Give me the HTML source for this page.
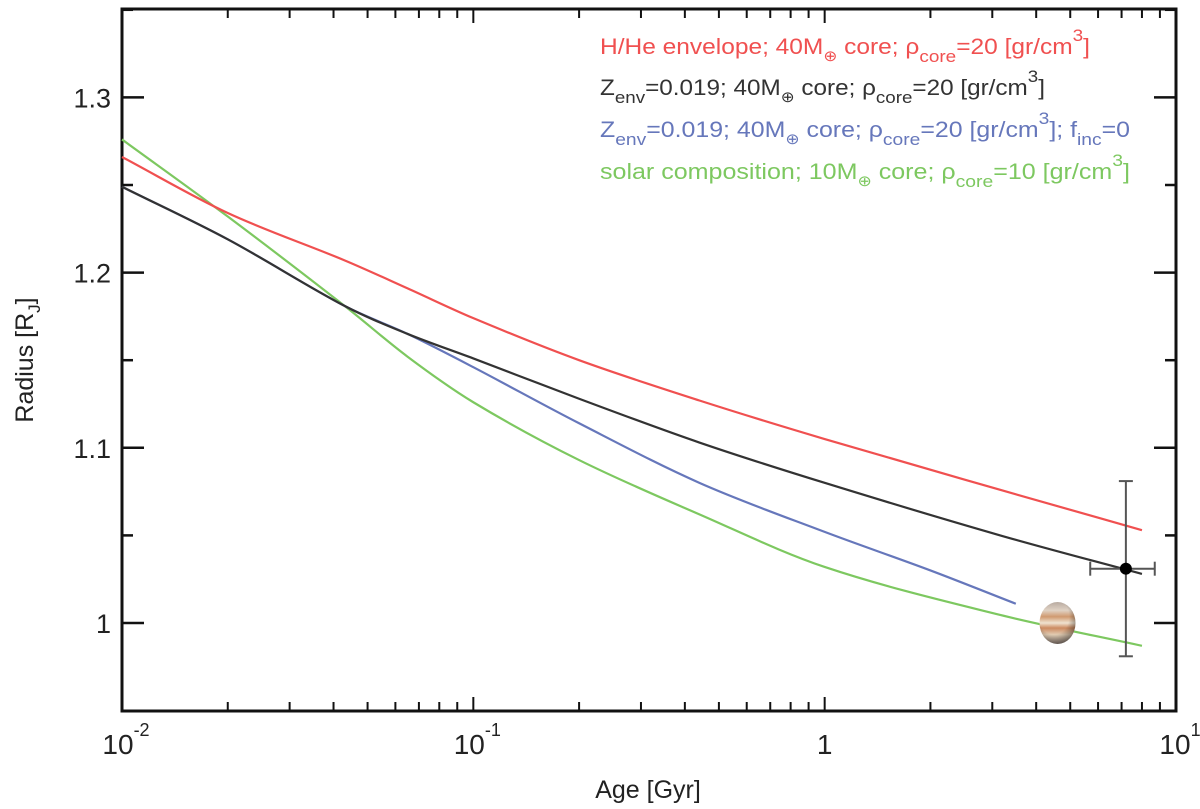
<!DOCTYPE html>
<html><head><meta charset="utf-8">
<style>
html,body{margin:0;padding:0;background:#fff;}
svg{display:block;font-family:"Liberation Sans",sans-serif;}
</style></head>
<body>
<svg id="chart" width="1200" height="809" viewBox="0 0 1200 809" xmlns="http://www.w3.org/2000/svg">
<defs>
<radialGradient id="shade" cx="0.4" cy="0.35" r="0.7">
<stop offset="0.6" stop-color="#000" stop-opacity="0"/><stop offset="1" stop-color="#000" stop-opacity="0.45"/></radialGradient>
<linearGradient id="jup" x1="0" y1="0" x2="0" y2="1">
<stop offset="0" stop-color="#b8aaa0"/><stop offset="0.2" stop-color="#e0d2c4"/>
<stop offset="0.35" stop-color="#d09a70"/><stop offset="0.5" stop-color="#efe2d0"/>
<stop offset="0.62" stop-color="#cc8a60"/><stop offset="0.78" stop-color="#e2cdb4"/>
<stop offset="1" stop-color="#9a8a80"/></linearGradient>
</defs>
<g id="plot"></g>
<g font-size="22">
<text x="600" y="54" fill="#f05050" textLength="490" lengthAdjust="spacingAndGlyphs">H/He envelope; 40M<tspan font-size="15" dy="7">⊕</tspan><tspan dy="-7"> core; ρ</tspan><tspan font-size="17" dy="8">core</tspan><tspan dy="-8">=20 [gr/cm</tspan><tspan font-size="17" dy="-13">3</tspan><tspan dy="13">]</tspan></text>
<text x="600" y="95" fill="#333" textLength="445" lengthAdjust="spacingAndGlyphs">Z<tspan font-size="17" dy="8">env</tspan><tspan dy="-8">=0.019; 40M</tspan><tspan font-size="15" dy="7">⊕</tspan><tspan dy="-7"> core; ρ</tspan><tspan font-size="17" dy="8">core</tspan><tspan dy="-8">=20 [gr/cm</tspan><tspan font-size="17" dy="-13">3</tspan><tspan dy="13">]</tspan></text>
<text x="600" y="137" fill="#6677bb" textLength="530" lengthAdjust="spacingAndGlyphs">Z<tspan font-size="17" dy="8">env</tspan><tspan dy="-8">=0.019; 40M</tspan><tspan font-size="15" dy="7">⊕</tspan><tspan dy="-7"> core; ρ</tspan><tspan font-size="17" dy="8">core</tspan><tspan dy="-8">=20 [gr/cm</tspan><tspan font-size="17" dy="-13">3</tspan><tspan dy="13">]; f</tspan><tspan font-size="17" dy="8">inc</tspan><tspan dy="-8">=0</tspan></text>
<text x="600" y="179" fill="#7dc860" textLength="530" lengthAdjust="spacingAndGlyphs">solar composition; 10M<tspan font-size="15" dy="7">⊕</tspan><tspan dy="-7"> core; ρ</tspan><tspan font-size="17" dy="8">core</tspan><tspan dy="-8">=10 [gr/cm</tspan><tspan font-size="17" dy="-13">3</tspan><tspan dy="13">]</tspan></text>
</g>
<text x="648" y="798" font-size="25" text-anchor="middle" fill="#222">Age [Gyr]</text>
<text transform="translate(33,360) rotate(-90)" font-size="25" text-anchor="middle" fill="#222">Radius [R<tspan font-size="17" dy="7">J</tspan><tspan dy="-7">]</tspan></text>
</svg>
<script>
const ages = [0.01, 0.02, 0.043, 0.065, 0.1, 0.2, 0.44, 1, 3.16, 8];
const redR = [1.266, 1.234, 1.207, 1.191, 1.174, 1.150, 1.127, 1.105, 1.076, 1.053];
const blackR = [1.249, 1.219, 1.181, 1.165, 1.151, 1.128, 1.103, 1.080, 1.050, 1.028];
const blueAges = [0.01, 0.02, 0.043, 0.065, 0.1, 0.2, 0.44, 1, 2, 3.5];
const blueR = [1.249, 1.219, 1.181, 1.165, 1.146, 1.114, 1.080, 1.052, 1.030, 1.011];
const greenR = [1.276, 1.232, 1.181, 1.152, 1.126, 1.093, 1.062, 1.032, 1.0046, 0.987];
const obsAge = [7.2], obsR = [1.031], obsRErr = [0.05], obsAgeLo = [5.7], obsAgeHi = [8.7];
const jupAge = [4.6], jupR = [1.0];
const yTicks = [1.0, 1.1, 1.2, 1.3];
const yTickLabels = ["1", "1.1", "1.2", "1.3"];
const xDecades = [-2, -1, 0, 1];

const L=122,R=1176,T=9,B=711;
const xs = a => L + (Math.log10(a)+2)/3*(R-L);
const ys = r => 623 - (r-1.0)*1752;
const NS="http://www.w3.org/2000/svg";
const g=document.getElementById('plot');
function mk(t,attrs){const e=document.createElementNS(NS,t);for(const k in attrs)e.setAttribute(k,attrs[k]);g.appendChild(e);return e;}

let fr=mk('rect',{x:L,y:T,width:R-L,height:B-T,fill:'none',stroke:'#111','stroke-width':3});



xDecades.forEach((d,i)=>{
  for(let m=1;m<10;m++){
    if(d===1&&m>1)break;
    const x=xs(m*Math.pow(10,d));
    const len=(m===1)?14:9;
    let t=mk('line',{x1:x,y1:B,x2:x,y2:B-len,stroke:'#111','stroke-width':2});
    
    
    let t2=mk('line',{x1:x,y1:T,x2:x,y2:T+len,stroke:'#111','stroke-width':2});
    
    
  }
  const x=xs(Math.pow(10,d));
  let lab=mk('text',{x:x,y:754,'font-size':28,'text-anchor':'middle',fill:'#222'});
  
  
  if(d===0){lab.textContent='1';}
  else{lab.innerHTML='10<tspan font-size="18" dy="-18">'+(d===1?'1':String(d))+'</tspan>';lab.setAttribute('x',x+4);}
});

yTicks.forEach((v,i)=>{
  const y=ys(v);
  let t=mk('line',{x1:L,y1:y,x2:L+22,y2:y,stroke:'#111','stroke-width':2.5});
  
  
  let t2=mk('line',{x1:R,y1:y,x2:R-22,y2:y,stroke:'#111','stroke-width':2.5});
  
  
  const ym=ys(v+0.05);
  if(ym>T){
    let m1=mk('line',{x1:L,y1:ym,x2:L+11,y2:ym,stroke:'#111','stroke-width':2.5});
    
    
    let m2=mk('line',{x1:R,y1:ym,x2:R-11,y2:ym,stroke:'#111','stroke-width':2.5});
    
    
  }
  let lab=mk('text',{x:111,y:y+10,'font-size':27,'text-anchor':'end',fill:'#222'});
  
  
  lab.textContent=yTickLabels[i];
});

function pathFor(ax,ry){
  const p=ax.map((a,i)=>[xs(a),ys(ry[i])]);
  const n=p.length, m=[];
  for(let i=0;i<n;i++){
    const a=p[Math.max(0,i-1)], b=p[Math.min(n-1,i+1)];
    m.push((b[1]-a[1])/(b[0]-a[0]));
  }
  let d='M'+p[0][0].toFixed(2)+','+p[0][1].toFixed(2);
  for(let i=0;i<n-1;i++){
    const dx=(p[i+1][0]-p[i][0])/3;
    d+=' C'+(p[i][0]+dx).toFixed(2)+','+(p[i][1]+m[i]*dx).toFixed(2)+' '+(p[i+1][0]-dx).toFixed(2)+','+(p[i+1][1]-m[i+1]*dx).toFixed(2)+' '+p[i+1][0].toFixed(2)+','+p[i+1][1].toFixed(2);
  }
  return d;
}
const series=[['curve-solar',ages,greenR,'#7dc860'],['curve-zenv-finc',blueAges,blueR,'#6677bb'],['curve-hhe',ages,redR,'#f05050'],['curve-zenv',ages,blackR,'#333333']];
series.forEach(s=>{
  let p=mk('path',{d:pathFor(s[1],s[2]),fill:'none',stroke:s[3],'stroke-width':2.2});
  
  
});

let jp=mk('ellipse',{cx:xs(jupAge[0]),cy:ys(jupR[0]),rx:18,ry:21,fill:'url(#jup)'});


let js=mk('ellipse',{cx:xs(jupAge[0]),cy:ys(jupR[0]),rx:18,ry:21,fill:'url(#shade)'});



const ox=xs(obsAge[0]),oy=ys(obsR[0]);
const ey1=ys(obsR[0]+obsRErr[0]),ey2=ys(obsR[0]-obsRErr[0]);
const ex1=xs(obsAgeLo[0]),ex2=xs(obsAgeHi[0]);
[[ox,ey1,ox,ey2],[ox-7,ey1,ox+7,ey1],[ox-7,ey2,ox+7,ey2],[ex1,oy,ex2,oy],[ex1,oy-7,ex1,oy+7],[ex2,oy-7,ex2,oy+7]].forEach(c=>{
  let l=mk('line',{x1:c[0],y1:c[1],x2:c[2],y2:c[3],stroke:'#555','stroke-width':2});
  
  
});
let pt=mk('circle',{cx:ox,cy:oy,r:6,fill:'#000'});


</script>
</body></html>
